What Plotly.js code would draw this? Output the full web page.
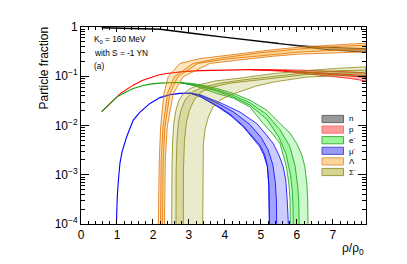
<!DOCTYPE html>
<html>
<head>
<meta charset="utf-8">
<script src="https://cdn.plot.ly/plotly-3.0.1.min.js"></script>
<style>html,body{margin:0;padding:0;background:#fff;}#chart{width:407px;height:264px;}</style>
</head>
<body>
<div id="chart"></div>
<script>
// ---------- data (density rho/rho0 , particle fraction) ----------
// neutrons
var nLineX = [0.575, 1.0, 1.5, 2.0, 2.2, 2.5, 2.9, 3.3, 3.9, 4.4, 5.05, 5.5];
var nLineY = [0.962, 0.955, 0.935, 0.91, 0.90, 0.84, 0.77, 0.714, 0.63, 0.566, 0.498, 0.46];
var nBandX = [5.5, 6.1, 6.7, 7.3, 7.92];
var nHiY = [0.46, 0.42, 0.39, 0.375, 0.363];
var nLoY = [0.46, 0.40, 0.355, 0.33, 0.308];
// protons
var pLineX = [0.575, 0.75, 1.0, 1.1, 1.25, 1.45, 1.7, 1.92, 2.15, 2.38, 2.6, 2.84, 3.3, 3.86, 4.3, 4.7];
var pLineY = [0.0191, 0.0259, 0.0382, 0.045, 0.054, 0.066, 0.082, 0.0946, 0.106, 0.114, 0.120, 0.124, 0.130, 0.133, 0.135, 0.136];
var pBandX = [4.7, 5.2, 5.6, 6.1, 6.6, 7.0, 7.5, 7.92];
var pOutHiY = [0.136, 0.136, 0.135, 0.133, 0.130, 0.127, 0.122, 0.116];
var pOutLoY = [0.136, 0.133, 0.127, 0.116, 0.106, 0.099, 0.090, 0.080];
var pInHiY = [0.136, 0.135, 0.131, 0.125, 0.119, 0.114, 0.108, 0.103];
var pInLoY = [0.136, 0.134, 0.129, 0.121, 0.114, 0.108, 0.100, 0.095];
// electrons
var eLineX = [0.575, 0.75, 1.0, 1.25, 1.45, 1.7, 1.92, 2.2, 2.38, 2.6, 2.75];
var eLineY = [0.0191, 0.0259, 0.0382, 0.048, 0.0566, 0.064, 0.0691, 0.0725, 0.0742, 0.0745, 0.0742];
var eOutHiX = [2.75, 3.03, 3.31, 3.77, 4.23, 4.69, 5.16, 5.53, 5.81, 5.99, 6.14, 6.22, 6.28, 6.30, 6.31];
var eOutHiY = [0.0742, 0.072, 0.0676, 0.0566, 0.0448, 0.0327, 0.0205, 0.0110, 0.0070, 0.00433, 0.00251, 0.00145, 0.00062, 0.0003, 0.00008];
var eOutLoX = [2.75, 3.03, 3.31, 3.77, 4.23, 4.69, 5.06, 5.31, 5.53, 5.71, 5.78, 5.81, 5.82];
var eOutLoY = [0.0742, 0.068, 0.0587, 0.0448, 0.036, 0.024, 0.011, 0.0070, 0.00433, 0.00145, 0.00062, 0.0003, 0.00008];
var eInHiX = [2.75, 3.31, 3.77, 4.23, 4.69, 5.16, 5.53, 5.8, 5.95, 6.02, 6.05, 6.064];
var eInHiY = [0.0742, 0.065, 0.053, 0.041, 0.029, 0.0168, 0.0082, 0.0038, 0.0015, 0.0006, 0.0003, 0.00008];
var eInLoX = [2.75, 3.31, 3.77, 4.23, 4.69, 5.16, 5.5, 5.7, 5.82, 5.87, 5.89, 5.90];
var eInLoY = [0.0742, 0.062, 0.050, 0.038, 0.026, 0.0135, 0.0058, 0.0026, 0.0010, 0.0005, 0.00025, 0.00008];
// muons
var muLineX = [0.98, 0.994, 1.008, 1.04, 1.083, 1.139, 1.269, 1.453, 1.639, 1.917, 2.194, 2.472, 2.75, 3.03];
var muLineY = [0.00008, 0.00019, 0.00036, 0.00078, 0.00173, 0.00289, 0.0059, 0.0129, 0.0187, 0.0281, 0.0368, 0.0423, 0.045, 0.0454];
var muOutHiX = [3.03, 3.31, 3.91, 4.42, 4.88, 5.11, 5.34, 5.5, 5.62, 5.69, 5.73, 5.76, 5.77];
var muOutHiY = [0.0454, 0.0423, 0.0281, 0.0187, 0.011, 0.0070, 0.00433, 0.00251, 0.00145, 0.00078, 0.00031, 0.0001, 0.00008];
var muOutLoX = [3.03, 3.31, 3.77, 4.14, 4.51, 4.75, 4.97, 5.08, 5.18, 5.22, 5.23, 5.235];
var muOutLoY = [0.0454, 0.0386, 0.0247, 0.0163, 0.0094, 0.0058, 0.0037, 0.0025, 0.00145, 0.00062, 0.00031, 0.00008];
var muInHiX = [3.03, 3.31, 3.77, 4.23, 4.69, 5.0, 5.2, 5.33, 5.4, 5.43, 5.44];
var muInHiY = [0.0454, 0.041, 0.029, 0.019, 0.0105, 0.0058, 0.0032, 0.0016, 0.0007, 0.0003, 0.00008];
var muInLoX = [3.03, 3.31, 3.77, 4.14, 4.51, 4.75, 4.97, 5.1, 5.18, 5.22, 5.235, 5.24];
var muInLoY = [0.0454, 0.039, 0.0255, 0.017, 0.0098, 0.0062, 0.0040, 0.0026, 0.0015, 0.0006, 0.0003, 0.00008];
// Lambda
var lamOutHiX = [2.147, 2.175, 2.214, 2.306, 2.425, 2.75, 3.306, 4.22, 5.333, 6.083, 7.0, 7.917];
var lamOutHiY = [0.00008, 0.00199, 0.0094, 0.0448, 0.0981, 0.182, 0.228, 0.275, 0.345, 0.39, 0.43, 0.47];
var lamOutLoX = [2.319, 2.342, 2.397, 2.564, 2.842, 3.583, 4.417, 5.333, 6.083, 7.0, 7.917];
var lamOutLoY = [0.00008, 0.00199, 0.0094, 0.0448, 0.0981, 0.182, 0.215, 0.255, 0.282, 0.30, 0.313];
var lamInHiX = [2.208, 2.228, 2.278, 2.403, 2.597, 3.111, 3.861, 4.972, 6.083, 7.0, 7.917];
var lamInHiY = [0.00008, 0.002, 0.0094, 0.0448, 0.0981, 0.182, 0.233, 0.30, 0.36, 0.40, 0.427];
var lamInLoX = [2.264, 2.286, 2.333, 2.472, 2.694, 3.25, 4.0, 5.111, 6.083, 7.0, 7.917];
var lamInLoY = [0.00008, 0.002, 0.0094, 0.0448, 0.0981, 0.182, 0.222, 0.27, 0.31, 0.335, 0.35];
// Sigma-
var sigOutHiX = [2.519, 2.528, 2.547, 2.583, 2.639, 2.722, 2.833, 3.028, 3.306, 3.722, 4.417, 5.333, 6.25, 7.194, 7.917];
var sigOutHiY = [0.00008, 0.00125, 0.00506, 0.0117, 0.0205, 0.0327, 0.0433, 0.056, 0.0676, 0.080, 0.0915, 0.113, 0.130, 0.146, 0.155];
var sigOutLoX = [3.381, 3.383, 3.40, 3.444, 3.536, 3.667, 3.861, 4.139, 4.417, 4.861, 5.333, 6.25, 7.194, 7.917];
var sigOutLoY = [0.00008, 0.00125, 0.004, 0.0081, 0.0147, 0.0236, 0.0327, 0.0414, 0.0487, 0.063, 0.0759, 0.0959, 0.103, 0.105];
var sigInHiX = [2.639, 2.644, 2.667, 2.708, 2.778, 2.889, 3.083, 3.389, 3.861, 4.556, 5.333, 6.25, 7.194, 7.917];
var sigInHiY = [0.00008, 0.00125, 0.005, 0.0117, 0.0205, 0.0327, 0.0476, 0.0601, 0.0724, 0.0853, 0.100, 0.118, 0.130, 0.133];
var sigInLoX = [2.842, 2.847, 2.875, 2.931, 3.014, 3.139, 3.333, 3.639, 4.139, 4.833, 5.528, 6.25, 7.194, 7.917];
var sigInLoY = [0.00008, 0.00125, 0.005, 0.0117, 0.0205, 0.0327, 0.0476, 0.0601, 0.0724, 0.0833, 0.094, 0.108, 0.116, 0.117];

var legendLabels = ['n', 'p', 'e<sup>-</sup>', 'μ<sup>-</sup>', 'Λ', 'Σ<sup>-</sup>'];
var yTickVals = [1e-4, 1e-3, 1e-2, 1e-1, 1];
var yTickText = ['10<sup>−4</sup>', '10<sup>−3</sup>', '10<sup>−2</sup>', '10<sup>−1</sup>', '1'];
var infoLines = ['K<sub>0</sub> = 160 MeV', 'with S = -1 YN', '(a)'];

// ---------- styles ----------
var sty = {
  n:   {line: '#000000', fill: 'rgba(0,0,0,0.35)',     lgFill: '#999999', lgLine: '#666666'},
  p:   {line: '#ff0000', fill: 'rgba(255,0,0,0.22)',   lgFill: '#ff9a9a', lgLine: '#ff7070'},
  e:   {line: '#10a010', fill: 'rgba(0,230,0,0.2)',    lgFill: '#9af59a', lgLine: '#40b040'},
  mu:  {line: '#0000ff', fill: 'rgba(0,0,255,0.2)',    lgFill: '#9a9af5', lgLine: '#5050d0'},
  lam: {line: '#e07000', fill: 'rgba(255,160,0,0.25)', lgFill: '#fdd598', lgLine: '#e0a050'},
  sig: {line: '#8a8a10', fill: 'rgba(150,150,0,0.2)',  lgFill: '#d6d690', lgLine: '#9a9a40'}
};

function band(xlo, ylo, xhi, yhi, s) {
  return {
    x: xlo.concat(xhi.slice().reverse()),
    y: ylo.concat(yhi.slice().reverse()),
    type: 'scatter', mode: 'lines', fill: 'toself',
    fillcolor: s.fill, line: {color: s.line, width: 0.8},
    hoverinfo: 'skip', showlegend: false
  };
}
function line(x, y, s, w) {
  return {x: x, y: y, type: 'scatter', mode: 'lines',
    line: {color: s.line, width: w || 1.1}, hoverinfo: 'skip', showlegend: false};
}

var traces = [
  line(nLineX, nLineY, sty.n, 1.5),
  band(nBandX, nLoY, nBandX, nHiY, sty.n),
  line(pLineX, pLineY, sty.p),
  band(pBandX, pOutLoY, pBandX, pOutHiY, sty.p),
  band(pBandX, pInLoY, pBandX, pInHiY, sty.p),
  line(eLineX, eLineY, sty.e),
  band(eOutLoX, eOutLoY, eOutHiX, eOutHiY, sty.e),
  band(eInLoX, eInLoY, eInHiX, eInHiY, sty.e),
  line(muLineX, muLineY, sty.mu),
  band(muOutLoX, muOutLoY, muOutHiX, muOutHiY, sty.mu),
  band(muInLoX, muInLoY, muInHiX, muInHiY, sty.mu),
  band(lamOutLoX, lamOutLoY, lamOutHiX, lamOutHiY, sty.lam),
  band(lamInLoX, lamInLoY, lamInHiX, lamInHiY, sty.lam),
  band(sigOutLoX, sigOutLoY, sigOutHiX, sigOutHiY, sty.sig),
  band(sigInLoX, sigInLoY, sigInHiX, sigInHiY, sty.sig)
];

// minor log ticks
var yMinor = [];
for (var d = -4; d < 0; d++) for (var k = 2; k <= 9; k++) yMinor.push(k * Math.pow(10, d));

var font = 'Liberation Sans, Arial, Helvetica, sans-serif';
var L = 81, R = 366, T = 27, B = 224;
function px2paperX(px) { return (px - L) / (R - L); }
function px2paperY(py) { return (B - py) / (B - T); }

var shapes = [], annotations = [];
var lgKeys = ['n', 'p', 'e', 'mu', 'lam', 'sig'];
for (var i = 0; i < lgKeys.length; i++) {
  var cy = 119 + i * 10.6;
  var s = sty[lgKeys[i]];
  shapes.push({type: 'rect', xref: 'paper', yref: 'paper',
    x0: px2paperX(322), x1: px2paperX(343.5), y0: px2paperY(cy + 3.6), y1: px2paperY(cy - 3.6),
    fillcolor: s.lgFill, line: {color: s.lgLine, width: 1}});
  annotations.push({xref: 'paper', yref: 'paper', x: px2paperX(347), y: px2paperY(cy),
    xanchor: 'left', yanchor: 'middle', text: legendLabels[i], showarrow: false,
    font: {family: font, size: 8, color: '#000'}});
}
for (var j = 0; j < infoLines.length; j++) {
  annotations.push({xref: 'paper', yref: 'paper', x: px2paperX(92), y: px2paperY(40 + j * 12.8),
    xanchor: 'left', yanchor: 'middle', text: infoLines[j], showarrow: false,
    font: {family: font, size: 8.3, color: '#000'}});
}
annotations.push({xref: 'paper', yref: 'paper', x: 0, xshift: -38, y: px2paperY(68.5),
  xanchor: 'center', yanchor: 'middle', textangle: -90, text: 'Particle fraction', showarrow: false,
  font: {family: font, size: 12, color: '#000'}});
annotations.push({xref: 'paper', yref: 'paper', x: 1, y: px2paperY(249),
  xanchor: 'right', yanchor: 'middle', text: 'ρ/ρ<sub>0</sub>', showarrow: false,
  font: {family: font, size: 12, color: '#000'}});

var layout = {
  width: 407, height: 264,
  margin: {l: L, r: 407 - R, t: T, b: 264 - B, pad: 0},
  paper_bgcolor: '#fff', plot_bgcolor: '#fff',
  showlegend: false,
  font: {family: font, size: 12, color: '#000'},
  xaxis: {
    range: [0, 7.92], tickmode: 'linear', tick0: 0, dtick: 1,
    ticks: 'inside', ticklen: 5, tickwidth: 1, tickcolor: '#000',
    minor: {dtick: 0.2, ticks: 'inside', ticklen: 3, tickwidth: 1, tickcolor: '#000', showgrid: false},
    showline: true, linecolor: '#000', linewidth: 1, mirror: 'allticks',
    showgrid: false, zeroline: false,
    tickfont: {family: font, size: 12, color: '#000'}
  },
  yaxis: {
    type: 'log', range: [-4, 0],
    tickmode: 'array', tickvals: yTickVals, ticktext: yTickText,
    ticks: 'inside', ticklen: 8, tickwidth: 1, tickcolor: '#000',
    minor: {tickmode: 'array', tickvals: yMinor, ticks: 'inside', ticklen: 4, tickwidth: 1, tickcolor: '#000', showgrid: false},
    showline: true, linecolor: '#000', linewidth: 1, mirror: 'allticks',
    showgrid: false, zeroline: false,
    tickfont: {family: font, size: 12, color: '#000'}
  },
  shapes: shapes,
  annotations: annotations
};

Plotly.newPlot('chart', traces, layout, {displayModeBar: false, staticPlot: true});
</script>
</body>
</html>
